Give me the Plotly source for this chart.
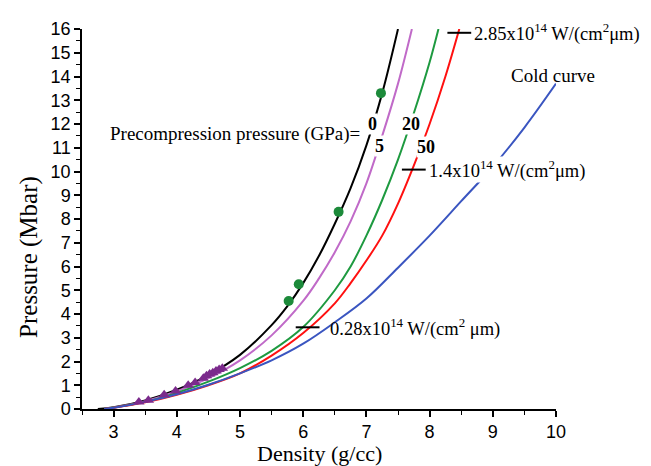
import plotly.graph_objects as go

# ---- data ----
black_x = [2.75, 3.0, 3.5, 4.0, 4.5, 5.0, 5.5, 5.75, 6.0, 6.25, 6.5, 6.75, 7.0, 7.25, 7.5]
black_y = [0.0, 0.07, 0.36, 0.81, 1.43, 2.28, 3.53, 4.33, 5.3, 6.45, 7.8, 9.3, 11.1, 13.3, 16.0]

mag_x = [2.85, 3.0, 3.5, 4.0, 4.5, 5.0, 5.5, 6.0, 6.25, 6.5, 6.75, 7.0, 7.25, 7.5, 7.72]
mag_y = [0.0, 0.06, 0.33, 0.75, 1.3, 2.05, 3.1, 4.55, 5.5, 6.6, 7.9, 9.5, 11.5, 13.7, 16.0]

green_x = [2.85, 3.0, 3.5, 4.0, 4.5, 5.0, 5.5, 6.0, 6.5, 6.75, 7.0, 7.25, 7.5, 7.75, 8.0, 8.14]
green_y = [0.0, 0.06, 0.3, 0.68, 1.15, 1.72, 2.45, 3.45, 5.0, 6.0, 7.3, 8.8, 10.5, 12.45, 14.6, 16.0]

red_x = [2.85, 3.0, 3.5, 4.0, 4.5, 5.0, 5.5, 6.0, 6.5, 6.75, 7.0, 7.25, 7.5, 7.75, 8.0, 8.25, 8.47]
red_y = [0.0, 0.05, 0.28, 0.6, 1.0, 1.5, 2.25, 3.2, 4.45, 5.3, 6.25, 7.3, 8.65, 10.25, 12.0, 14.0, 16.0]

cold_x = [2.85, 3.0, 3.5, 4.0, 4.5, 5.0, 5.5, 6.0, 6.5, 7.0, 7.5, 8.0, 8.5, 9.0, 9.5, 10.0]
cold_y = [0.0, 0.05, 0.3, 0.62, 1.02, 1.5, 2.05, 2.75, 3.65, 4.65, 5.95, 7.3, 8.75, 10.2, 11.85, 13.7]

dots_x = [5.77, 5.93, 6.56, 7.23]
dots_y = [4.55, 5.25, 8.3, 13.3]

tri_x = [3.40, 3.55, 3.80, 3.98, 4.18, 4.29, 4.42, 4.47, 4.52, 4.57, 4.62, 4.67, 4.72]
tri_y = [0.30, 0.37, 0.60, 0.76, 1.00, 1.12, 1.30, 1.40, 1.47, 1.53, 1.60, 1.66, 1.72]

# laser-intensity marks on the 50 GPa curve
mark_x = [8.47, 7.75, 6.07]
mark_y = [15.84, 10.08, 3.44]

x_ticks = [3, 4, 5, 6, 7, 8, 9, 10]
y_ticks = list(range(0, 17))

SERIF = "Liberation Serif, Times New Roman, serif"
SANS = "Liberation Sans, Arial, sans-serif"

fig = go.Figure()

curves = [
    (black_x, black_y, "#000000", "0 GPa"),
    (mag_x, mag_y, "#c06ac8", "5 GPa"),
    (green_x, green_y, "#1e9a40", "20 GPa"),
    (red_x, red_y, "#ff1010", "50 GPa"),
    (cold_x, cold_y, "#3a55c0", "Cold curve"),
]
for xs, ys, col, name in curves:
    fig.add_trace(go.Scatter(x=xs, y=ys, mode="lines", name=name,
                             line=dict(color=col, width=2, shape="spline", smoothing=1.0)))

fig.add_trace(go.Scatter(x=tri_x, y=tri_y, mode="markers",
                         marker=dict(symbol="triangle-up", size=10, color="#7b2a8c")))
fig.add_trace(go.Scatter(x=dots_x, y=dots_y, mode="markers",
                         marker=dict(symbol="circle", size=10, color="#1c8a3a")))

ann = []
def text(x, y, s, size=19, bold=False, xanchor="left", bg=None):
    d = dict(x=x, y=y, xref="x", yref="y", text=("<b>%s</b>" % s) if bold else s,
             showarrow=False, xanchor=xanchor, yanchor="middle",
             font=dict(family=SERIF, size=size, color="black"))
    if bg:
        d["bgcolor"] = bg
        d["borderpad"] = 0
    ann.append(d)

text(2.91, 11.57, "Precompression pressure (GPa)=")
text(7.09, 11.98, "0", size=18, bold=True, xanchor="center", bg="white")
text(7.71, 11.98, "20", size=18, bold=True, xanchor="center", bg="white")
text(7.20, 11.08, "5", size=18, bold=True, xanchor="center", bg="white")
text(7.94, 11.04, "50", size=18, bold=True, xanchor="center", bg="white")
text(8.67, 15.84, "2.85x10<sup>14</sup> W/(cm<sup>2</sup>μm)", size=18.5)
text(7.97, 10.09, "1.4x10<sup>14</sup> W/(cm<sup>2</sup>μm)", size=18.5, bg="white")
text(6.39, 3.45, "0.28x10<sup>14</sup> W/(cm<sup>2</sup> μm)", size=18.5)
text(9.95, 14.03, "Cold curve", xanchor="center")

fig.add_trace(go.Scatter(x=mark_x, y=mark_y, mode="markers",
                         marker=dict(symbol="line-ew", size=17,
                                     line=dict(color="black", width=2))))

ann.append(dict(x=-0.112, y=0.40, xref="paper", yref="paper", text="Pressure (Mbar)",
                textangle=-90, showarrow=False, xanchor="center", yanchor="middle",
                font=dict(family=SERIF, size=25, color="black")))
ann.append(dict(x=0.5, y=-0.118, xref="paper", yref="paper", text="Density (g/cc)",
                showarrow=False, xanchor="center", yanchor="middle",
                font=dict(family=SERIF, size=22, color="black")))

# page body has an 8px default margin, so the figure is sized/offset to compensate
fig.update_layout(
    width=643, height=458,
    margin=dict(l=74, r=95, t=11, b=57),
    paper_bgcolor="white", plot_bgcolor="white",
    showlegend=False,
    annotations=ann,
    xaxis=dict(range=[2.5, 10], tickvals=x_ticks, showgrid=False, zeroline=False,
               showline=True, linecolor="black", linewidth=1.5,
               ticks="outside", ticklen=6, tickwidth=1.5, tickcolor="black",
               minor=dict(ticks="outside", ticklen=4, tickwidth=1.2, tickcolor="black", dtick=0.5),
               tickfont=dict(family=SANS, size=18, color="black")),
    yaxis=dict(range=[0, 16], tickvals=y_ticks, showgrid=False, zeroline=False,
               showline=True, linecolor="black", linewidth=1.5,
               ticks="outside", ticklen=6, tickwidth=1.5, tickcolor="black",
               minor=dict(ticks="outside", ticklen=4, tickwidth=1.2, tickcolor="black", dtick=0.5),
               tickfont=dict(family=SANS, size=18, color="black")),
)

fig.write_html("out.html")
